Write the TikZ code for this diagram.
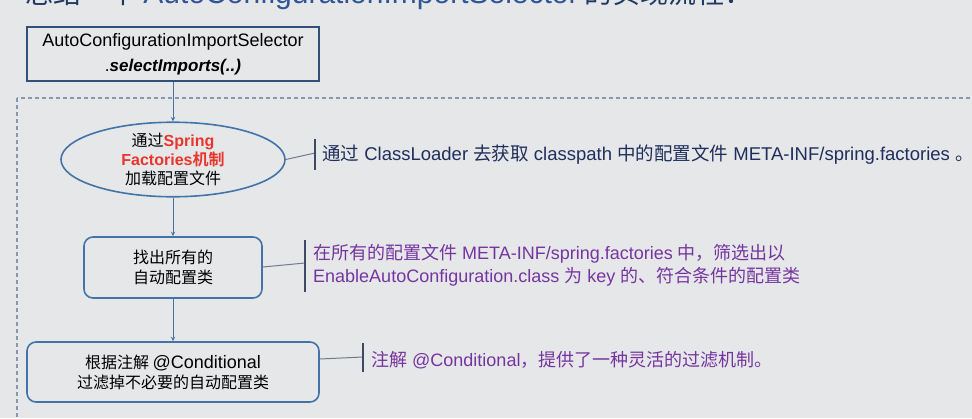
\documentclass[tikz,border=0pt]{standalone}
\usepackage{fontspec}
\setmainfont{Liberation Sans}
\newfontfamily\cjk[BoldFont={Noto Sans CJK SC Bold}]{Noto Sans CJK SC}
\usetikzlibrary{shapes.geometric}

\definecolor{bgcol}{HTML}{E6E7E8}
\definecolor{navy}{HTML}{34507A}
\definecolor{steel}{HTML}{4374A8}
\definecolor{frameg}{HTML}{8A97AA}
\definecolor{barcol}{HTML}{3D4A63}
\definecolor{linkg}{HTML}{6E7C8C}
\definecolor{notenavy}{HTML}{1F2E5C}
\definecolor{notepurp}{HTML}{7535A0}
\definecolor{sred}{HTML}{E8362C}
\definecolor{titlezh}{HTML}{1F3864}
\definecolor{titleen}{HTML}{2F5597}

% Chinese runs: full size for notes, smaller inside the boxes
\newcommand{\zh}[1]{{\cjk #1}}
\newcommand{\zhs}[1]{{\cjk\fontsize{16}{20}\selectfont #1}}

\begin{document}
\begin{tikzpicture}[>=stealth,x=1pt,y=-1pt,
  selbox/.style={draw=navy,line width=1.6pt,fill=bgcol,inner sep=0pt,
    minimum width=292pt,minimum height=54pt,align=center,
    font=\fontsize{18}{20}\selectfont},
  stepell/.style={ellipse,draw=steel,line width=1.6pt,fill=bgcol,inner sep=0pt,
    minimum width=224pt,minimum height=71pt,align=center,
    font=\fontsize{16}{19}\selectfont},
  stepbox/.style={draw=steel,line width=1.6pt,rounded corners=9pt,fill=bgcol,
    inner sep=0pt,align=center,font=\fontsize{18}{20}\selectfont},
  flow/.style={->,draw=steel,line width=1pt},
  frame/.style={draw=frameg,line width=1.1pt,dash pattern=on 4pt off 3pt},
  bar/.style={draw=barcol,line width=1.2pt},
  link/.style={draw=linkg,line width=1pt},
  note/.style={anchor=west,inner sep=0pt,align=left,
    font=\fontsize{18}{23}\selectfont}]

% Canvas
\useasboundingbox (0,0) rectangle (972,418);
\clip (0,0) rectangle (972,418);
\fill[bgcol] (0,0) rectangle (972,418);

% Title (cut off by the top edge)
\node[anchor=base west,inner sep=0pt,font=\fontsize{30}{30}\selectfont] (title) at (25,3)
  {\zh{\color{titlezh}\fontsize{28}{30}\selectfont 总结一个 }{\color{titleen}AutoConfigurationImportSelector}\zh{\color{titlezh}\fontsize{28}{30}\selectfont \ 的实现流程：}};

% Dashed frame
\draw[frame] (17,98) rectangle (995,440);

% Flow
\node[selbox] (sel) at (173,54)
  {AutoConfigurationImportSelector\\[5pt]{\fontsize{17}{20}\selectfont .{\bfseries\itshape selectImports(..)}}};
\node[stepell] (load) at (173,159.5)
  {\zhs{通过}{\color{sred}\bfseries Spring}\\
   {\color{sred}\bfseries Factories\zhs{\bfseries 机制}}\\
   \zhs{加载配置文件}};
\node[stepbox,minimum width=178pt,minimum height=61pt] (find) at (173,267.5)
  {\zhs{找出所有的}\\\zhs{自动配置类}};
\node[stepbox,minimum width=292pt,minimum height=60pt] (filter) at (173,372)
  {\zhs{根据注解 }@Conditional\\\zhs{过滤掉不必要的自动配置类}};

\draw[flow] (sel) -- (load);
\draw[flow] (load) -- (find);
\draw[flow] (find) -- (filter);

% Note 1
\coordinate (b1t) at (315,139);
\coordinate (b1m) at (315,153);
\coordinate (b1b) at (315,170);
\draw[link] (load.east) -- (b1m);
\draw[bar] (b1t) -- (b1b);
\node[note,text=notenavy,font=\fontsize{18.5}{23}\selectfont] (n1) at (322,155)
  {\zh{通过} ClassLoader \zh{去获取} classpath \zh{中的配置文件} META-INF/spring.factories \zh{。}};

% Note 2
\coordinate (b2t) at (305,240);
\coordinate (b2m) at (305,263);
\coordinate (b2b) at (305,292);
\draw[link] (find.east |- 0,267) -- (b2m);
\draw[bar] (b2t) -- (b2b);
\node[note,text=notepurp] (n2) at (313,265)
  {\zh{在所有的配置文件} META-INF/spring.factories \zh{中，筛选出以}\\
   EnableAutoConfiguration.class \zh{为} key \zh{的、符合条件的配置类}};

% Note 3
\coordinate (b3t) at (363,343);
\coordinate (b3m) at (363,357);
\coordinate (b3b) at (363,372);
\draw[link] (filter.east |- 0,359) -- (b3m);
\draw[bar] (b3t) -- (b3b);
\node[note,text=notepurp] (n3) at (371,360)
  {\zh{注解} @Conditional\zh{，提供了一种灵活的过滤机制。}};

\end{tikzpicture}
\end{document}
